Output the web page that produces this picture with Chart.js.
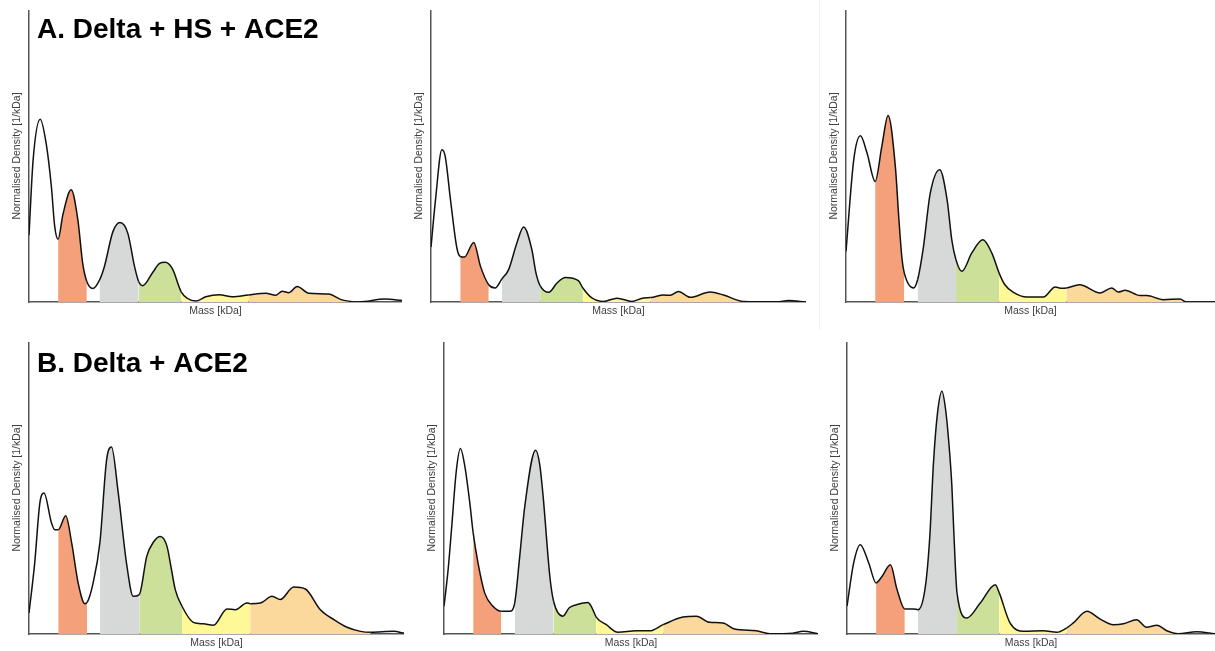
<!DOCTYPE html>
<html>
<head>
<meta charset="utf-8">
<script src="https://cdn.jsdelivr.net/npm/chart.js@4.4.0/dist/chart.umd.min.js"></script>
<style>
  html, body { margin: 0; padding: 0; background: #fff; }
  #wrap { position: relative; width: 1215px; height: 651px; overflow: hidden; }
  #wrap canvas { position: absolute; }
  #sep { position: absolute; left: 819px; top: 0; width: 1px; height: 330px; background: #f0f0f0; }
</style>
</head>
<body>
<div id="wrap"><div id="sep"></div></div>
<script>
// masses (relative position along the axis) and normalised densities
const massA1 = [0, 1.1, 3.0, 4.6, 6.0, 6.9, 7.8, 9.1, 11.3, 13.1, 14.4, 15.5, 17.1, 18.9, 20.2, 22.5, 24.4, 26.5, 28.3, 29.4, 30.5, 33.2, 35.0, 36.5, 38.4, 40.8, 42.5, 44.7, 47.4, 51.0, 54.5, 58.8, 63.5, 66.1, 67.9, 69.7, 71.9, 75.0, 80.4, 83.5, 85.7, 88.4, 95.5, 100];
const densA1 = [22.9, 48.6, 62.6, 54.3, 39.5, 25.8, 21.5, 30.0, 38.4, 28.1, 13.2, 7.0, 4.6, 7.5, 12.1, 24.1, 27.2, 23.5, 12.1, 7.0, 5.6, 10.2, 13.2, 13.6, 11.5, 3.5, 1.2, 0.3, 1.8, 2.5, 1.8, 2.4, 3.0, 2.3, 3.7, 3.2, 5.3, 3.0, 2.7, 0.9, 0.3, 0, 1.0, 0.5];

const massA2 = [0, 1.2, 2.9, 3.8, 5.2, 6.9, 7.8, 8.9, 11.4, 13.2, 15.4, 17.1, 18.9, 20.7, 22.9, 24.7, 26.9, 28.0, 29.1, 31.4, 33.6, 35.8, 39.3, 40.5, 42.9, 46.0, 49.6, 53.6, 56.7, 58.6, 62.0, 63.8, 66.0, 69.1, 74.4, 78.0, 83.3, 92.2, 95.3, 100];
const densA2 = [18.8, 35.0, 52.1, 49.8, 35.0, 18.5, 15.6, 15.4, 20.4, 12.2, 5.9, 4.8, 7.9, 11.1, 20.2, 25.7, 17.9, 9.9, 5.6, 3.3, 6.5, 8.4, 7.3, 4.8, 1.4, 0.2, 1.3, 0.2, 1.4, 1.5, 2.4, 2.3, 3.6, 1.6, 3.4, 2.4, 0.2, 0.1, 0.5, 0];

const massA3 = [0, 2.1, 3.9, 5.7, 7.9, 9.7, 11.4, 13.4, 14.3, 15.2, 15.8, 18.3, 19.4, 21.0, 22.8, 25.4, 27.4, 28.7, 29.8, 31.4, 34.1, 37.1, 39.5, 41.5, 43.0, 45.4, 49.0, 53.5, 56.7, 58.5, 59.7, 63.3, 68.9, 72.0, 73.8, 75.6, 79.7, 81.5, 86.0, 90.5, 92.3, 100];
const densA3 = [17.3, 48.7, 56.9, 51.0, 41.3, 53.2, 63.9, 46.0, 29.0, 14.5, 9.9, 4.8, 7.6, 19.0, 37.0, 45.3, 35.0, 21.0, 14.5, 10.5, 16.8, 21.3, 16.8, 9.9, 6.0, 3.3, 1.7, 1.7, 5.1, 4.7, 4.8, 5.9, 3.1, 4.8, 3.4, 4.0, 2.2, 2.2, 0.8, 1.0, 0, 0];

const massB1 = [0, 1.5, 2.9, 4.0, 6.0, 6.9, 7.8, 9.8, 11.4, 13.1, 14.9, 15.5, 17.1, 18.9, 20.7, 22.0, 23.8, 26.0, 27.8, 29.4, 31.4, 33.2, 35.0, 36.8, 38.0, 39.0, 40.8, 43.8, 46.5, 49.2, 52.8, 55.0, 58.1, 59.0, 61.7, 64.8, 67.0, 70.6, 73.7, 77.7, 81.3, 84.8, 88.4, 91.1, 97.3, 100];
const densB1 = [7.2, 24.0, 44.9, 48.3, 38.0, 35.7, 35.7, 40.5, 31.0, 17.5, 10.4, 10.8, 17.5, 31.2, 59.7, 64.0, 48.3, 24.3, 12.9, 13.5, 26.6, 31.5, 33.4, 30.0, 22.0, 15.2, 9.5, 4.0, 3.5, 3.0, 8.6, 8.3, 10.6, 10.4, 10.6, 12.9, 11.8, 16.1, 15.4, 8.3, 4.9, 2.3, 0.9, 0.6, 0.9, 0.3];

const massB2 = [0, 1.1, 2.0, 3.3, 4.4, 5.5, 6.9, 7.8, 9.1, 10.9, 13.1, 15.3, 17.6, 18.9, 20.2, 21.6, 24.5, 25.6, 26.5, 28.3, 29.3, 31.8, 33.5, 35.4, 38.5, 39.4, 40.7, 43.4, 46.5, 51.4, 55.0, 58.6, 63.9, 67.5, 71.0, 74.6, 77.7, 83.5, 87.1, 93.3, 96.0, 100];
const densB2 = [9.5, 22.0, 35.7, 56.0, 63.5, 58.0, 44.9, 34.6, 24.3, 14.0, 9.5, 7.8, 7.8, 10.6, 26.0, 43.7, 62.9, 58.0, 47.2, 19.7, 11.2, 6.1, 9.0, 10.0, 10.8, 9.4, 5.8, 3.2, 0.6, 1.1, 1.1, 3.2, 5.8, 6.1, 4.0, 3.8, 1.7, 1.1, 0.1, 0.3, 0.9, 0.1];

const massB3 = [0, 1.8, 3.6, 5.9, 7.9, 9.5, 11.8, 13.6, 15.7, 18.1, 19.3, 21.3, 22.5, 23.5, 24.6, 25.8, 26.8, 27.6, 28.5, 29.0, 29.9, 32.6, 36.2, 40.3, 41.4, 44.3, 48.0, 53.4, 57.0, 59.7, 61.5, 65.2, 68.8, 72.4, 75.1, 78.7, 81.4, 84.2, 86.9, 90.0, 95.0, 100];
const densB3 = [9.5, 24.3, 30.6, 24.3, 17.5, 19.7, 23.7, 15.2, 8.6, 8.6, 8.3, 16.3, 33.4, 58.6, 75.7, 83.1, 76.8, 66.6, 50.6, 35.7, 14.0, 5.5, 10.6, 16.9, 14.0, 3.8, 0.9, 1.1, 0.6, 2.1, 3.8, 7.8, 5.1, 3.2, 3.5, 4.9, 2.3, 3.0, 1.1, 0.1, 0.8, 0.1];

// band edges: orange start, orange end, grey start, green start, yellow start, light orange start, light orange end
const edgesA1 = [7.8, 15.5, 18.9, 29.4, 40.8, 58.8, 85.7];
const edgesA2 = [7.8, 15.4, 18.9, 29.1, 40.5, 58.6, 83.3];
const edgesA3 = [7.9, 15.8, 19.4, 29.8, 41.5, 59.7, 92.3];
const edgesB1 = [7.8, 15.5, 18.9, 29.4, 40.8, 59.0, 91.1];
const edgesB2 = [7.8, 15.3, 18.9, 29.3, 40.7, 58.6, 87.1];
const edgesB3 = [7.9, 15.7, 19.3, 29.9, 41.4, 59.7, 90.0];

const titleA = 'A. Delta + HS + ACE2';
const titleB = 'B. Delta + ACE2';

// colores de las bandas
const c_naranja = 'rgb(244,160,122)';
const c_gris = 'rgb(215,217,216)';
const c_verde = 'rgb(204,224,154)';
const c_amarillo = 'rgb(255,248,150)';
const c_melon = 'rgb(251,216,156)';

// panel placement on the page (axis origin x, axis top, baseline, axis right end)
const panels = [
  { mass: massA1, dens: densA1, edges: edgesA1, axisX: 29,  top: 10,  base: 302, right: 402,  title: titleA, titleY: 38 },
  { mass: massA2, dens: densA2, edges: edgesA2, axisX: 431, top: 10,  base: 302, right: 806 },
  { mass: massA3, dens: densA3, edges: edgesA3, axisX: 846, top: 10,  base: 302, right: 1215 },
  { mass: massB1, dens: densB1, edges: edgesB1, axisX: 29,  top: 342, base: 634, right: 404,  title: titleB, titleY: 372 },
  { mass: massB2, dens: densB2, edges: edgesB2, axisX: 444, top: 342, base: 634, right: 818 },
  { mass: massB3, dens: densB3, edges: edgesB3, axisX: 847, top: 342, base: 634, right: 1215 }
];

const Y_W = 18;  // width kept for the y title
const X_H = 15;  // height kept for the x title

function bandColor(edges, x) {
  if (x > edges[0] && x < edges[1]) return c_naranja;
  if (x > edges[2] && x < edges[3]) return c_gris;
  if (x > edges[3] && x < edges[4]) return c_verde;
  if (x > edges[4] && x < edges[5]) return c_amarillo;
  if (x > edges[5] && x < edges[6]) return c_melon;
  return 'rgba(0,0,0,0)';
}

// titulo del panel, dibujado dentro del area
const panelTitle = {
  id: 'panelTitle',
  afterDraw(chart, args, opts) {
    if (!opts.text) return;
    const ctx = chart.ctx;
    ctx.save();
    ctx.font = 'bold 28px "Liberation Sans", Arial, sans-serif';
    ctx.fillStyle = '#000';
    ctx.textBaseline = 'alphabetic';
    ctx.fillText(opts.text, opts.x, opts.y);
    ctx.restore();
  }
};

const wrap = document.getElementById('wrap');

panels.forEach(p => {
  const left = p.axisX - Y_W;
  const canvas = document.createElement('canvas');
  canvas.width = p.right - left;
  canvas.height = p.base - p.top + X_H;
  canvas.style.left = left + 'px';
  canvas.style.top = p.top + 'px';
  wrap.appendChild(canvas);

  const points = p.mass.map((m, i) => ({ x: m, y: p.dens[i] }));
  const axisFont = { family: '"Liberation Sans", Arial, sans-serif', size: 10.5 };

  new Chart(canvas, {
    type: 'line',
    data: {
      datasets: [{
        data: points,
        borderColor: '#111',
        borderWidth: 1.5,
        pointRadius: 0,
        fill: 'origin',
        backgroundColor: 'rgba(0,0,0,0)',
        cubicInterpolationMode: 'monotone',
        segment: {
          backgroundColor: ctx => bandColor(p.edges, (ctx.p0.parsed.x + ctx.p1.parsed.x) / 2)
        }
      }]
    },
    options: {
      responsive: false,
      animation: false,
      devicePixelRatio: 1,
      layout: { padding: 0 },
      plugins: {
        legend: { display: false },
        tooltip: { enabled: false },
        panelTitle: { text: p.title || '', x: 37 - left, y: (p.titleY || 0) - p.top }
      },
      scales: {
        x: {
          type: 'linear', min: 0, max: 100,
          grid: { display: false },
          ticks: { display: false },
          border: { display: true, color: '#555', width: 1.5 },
          title: { display: true, text: 'Mass [kDa]', color: '#404040', font: axisFont, padding: 0 },
          afterFit: s => { s.height = X_H; },
          z: 1
        },
        y: {
          min: 0, max: 100,
          grid: { display: false },
          ticks: { display: false },
          border: { display: true, color: '#555', width: 1.5 },
          title: { display: true, text: 'Normalised Density [1/kDa]', color: '#404040', font: axisFont, padding: 0 },
          afterFit: s => { s.width = Y_W; },
          z: 1
        }
      }
    },
    plugins: [panelTitle]
  });
});
</script>
</body>
</html>
